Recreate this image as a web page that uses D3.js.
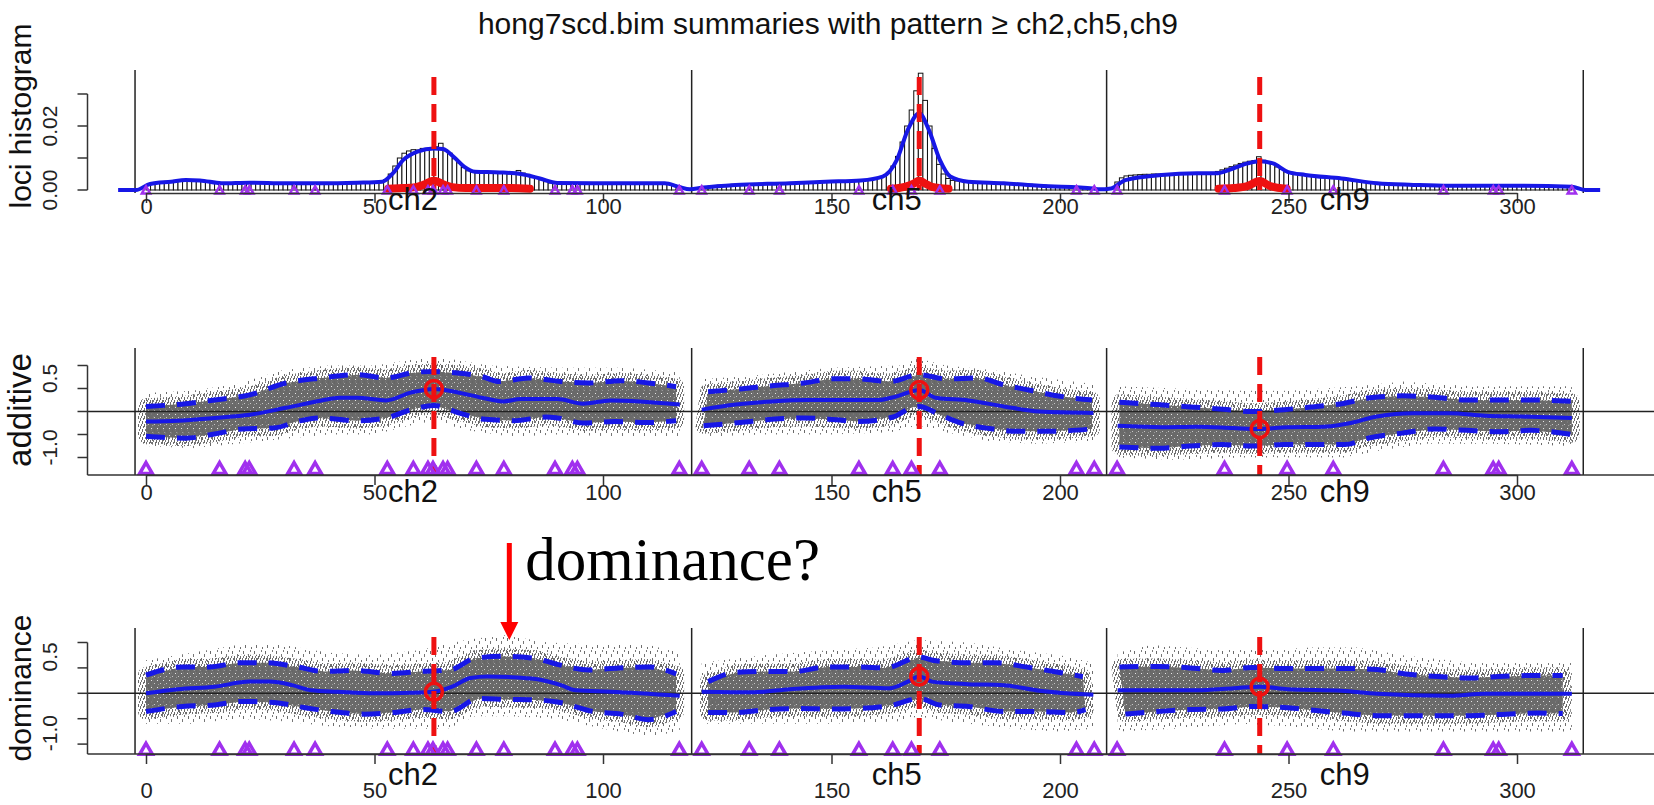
<!DOCTYPE html>
<html><head><meta charset="utf-8">
<script src="https://cdn.jsdelivr.net/npm/d3@7"></script>
<style>
body{margin:0;background:#fff}
svg{display:block}
</style>
</head><body>
<svg id="c" width="1654" height="805" font-family="Liberation Sans, Arial, Helvetica, sans-serif"></svg>
<script>
// ---------------- data ----------------
const chromNames = ["ch2","ch5","ch9"];
const chromMid = [58.4, 164.3, 262.3];
const separators = [-2.4, 119.4, 210.2, 314.5];
const xTicks = [0,50,100,150,200,250,300];
const qtlPos = [63, 169.2, 243.7];
const markerPos = [0,16.1,21.7,22.6,32.4,37,52.8,58.5,61.7,62.8,65,66,72.3,78.3,89.5,93.3,94.4,116.7,
  121.6,132,138.6,156,163.4,167.5,173.7,203.6,207.5,
  212.5,236,249.7,259.8,283.9,294.8,296,312];

// histogram (density x 1000), 1 cM bins starting at histStart
const histStart = [0, 121, 212];
const histCh2 = [1.5,2.2,2.4,2.6,2.7,2.8,3.0,3.1,3.1,3.0,3.1,2.9,2.8,2.6,2.4,2.2,2.1,2.0,2.1,2.2,2.3,
  2.3,2.2,2.3,2.2,2.1,2.0,2.1,2.1,2.0,1.9,2.0,2.1,2.0,2.1,2.0,2.1,2.2,2.1,2.0,2.1,
  2.2,2.3,2.2,2.3,2.2,2.3,2.4,2.3,2.4,2.5,2.5,3.2,5.0,7.5,10.0,11.5,12.2,12.6,12.5,13.0,12.8,12.9,
  13.5,14.6,12.5,11.5,9.8,8.5,7.0,6.0,5.6,5.4,5.3,5.4,5.2,5.3,5.4,5.2,5.1,5.5,6.1,5.3,4.9,4.4,3.9,
  3.2,2.6,2.2,2.2,2.3,2.2,2.1,2.2,2.3,2.2,2.1,2.2,2.1,2.0,2.1,2.1,2.2,2.1,2.1,2.0,2.1,2.1,2.2,2.1,2.0,2.1,2.1,2.0,1.9,1.6,1.0];
const histCh5 = [0.8,1.0,1.2,1.4,1.5,1.6,1.7,1.8,1.8,1.9,1.9,2.0,2.0,2.1,2.0,2.1,2.2,2.1,2.2,2.2,
  2.3,2.4,2.3,2.4,2.5,2.5,2.6,2.6,2.5,2.7,2.7,2.8,2.8,2.9,2.9,3.0,3.0,3.1,3.3,3.6,
  4.2,5.5,7.5,10.5,15.0,20.0,25.0,31.0,36.5,28.0,20.0,13.0,8.0,5.0,3.6,3.0,2.8,
  2.7,2.6,2.6,2.5,2.5,2.4,2.4,2.3,2.3,2.2,2.1,2.1,2.0,1.9,1.8,1.8,1.7,1.6,1.5,1.4,1.3,1.2,1.1,1.0,0.9,0.8,0.7,0.6,0.5];
const histCh9 = [2.5,3.8,4.4,4.6,4.7,4.8,4.9,4.9,5.0,5.0,5.0,5.1,5.1,5.2,5.2,5.2,5.1,5.2,5.2,5.3,5.3,5.5,
  5.8,6.3,6.8,7.3,7.8,8.3,8.7,9.0,9.2,10.4,9.3,8.7,8.0,7.2,6.4,5.7,5.2,4.9,4.7,4.5,
  4.3,4.2,4.0,3.9,3.8,3.7,3.6,3.4,3.2,3.0,2.8,2.6,2.4,2.2,2.0,
  1.9,1.8,1.7,1.6,1.5,1.5,1.4,1.4,1.3,1.3,1.3,1.2,1.3,1.2,1.2,1.3,1.2,1.3,1.2,1.2,1.3,1.4,1.3,1.2,1.3,1.2,1.3,1.2,1.2,1.3,1.2,1.3,1.2,1.2,1.3,1.2,1.2,1.1,1.2,1.1,1.0,0.9,0.8];
const densityLine = [[-6.1,0],[-2.2,0],[0.9,1.9],[5.5,2.6],[8.7,3.1],[11.8,3.0],[16.5,2.1],[22.7,2.3],[30.6,2.1],[38.4,2.1],
  [46.2,2.3],[51.7,2.6],[54,5.2],[56.3,9.4],[59.4,12.0],[63,13.0],[65,12.8],[67.3,10.4],[69.6,7.3],[72,5.7],[77.4,5.5],
  [82,5.0],[86.2,3.6],[90,2.2],[97.9,2.1],[105.6,2.1],[113.5,2.1],[116.6,1.0],[119,0.2],[122,0.8],[129,1.6],[140.9,2.1],
  [148.7,2.6],[156.4,3.0],[161.2,4.2],[164.3,9.4],[166.7,18.8],[169.2,24],[171.3,18.8],[173.7,9.4],[176,4.2],[179.9,2.6],
  [187.7,2.1],[195.5,1.3],[207.3,0.5],[208.5,0.2],[211.2,0.5],[214.3,3.1],[222.2,4.7],[230,5.2],[234,5.2],[238,6.8],[241,8.3],
  [243.7,9.0],[246.6,8.3],[249.8,5.7],[253.7,4.7],[261.6,3.6],[269.4,2.1],[277.3,1.6],[285.2,1.3],[293,1.3],[300.9,1.3],
  [312,1.0],[315,0],[318.2,0]];
const qtlBand = [[53,0.4],[56,0.6],[59,0.9],[61,1.8],[63,3.0],[65,1.8],[67,0.9],[70,0.6],[76,0.6],[80,0.6],[84,0.4],null,
  [163,0.4],[166,1.0],[168,2.0],[169.2,3.0],[170.5,2.0],[172,1.0],[175.6,0.4],null,
  [234.7,0.4],[238,0.6],[241,1.2],[243.7,2.8],[246,1.2],[249.6,0.4]];
const histYTicks = [0,10,20,30];
const histYLabels = ["0.00","","0.02",""];
const effYTicks = [-1,-0.5,0,0.5,1];
const effYLabels = ["-1.0","","","0.5",""];

// additive effects
const addMean = [[0,-0.22],[7,-0.2],[15,-0.14],[22.7,-0.07],[30.6,0.08],[38.4,0.24],[42.3,0.3],[46.2,0.3],[52.5,0.24],[57.9,0.41],
  [63,0.49],[68,0.42],[73.5,0.3],[78.2,0.22],[82,0.27],[90,0.27],[95.6,0.17],[101.7,0.24],[108,0.22],[116.8,0.15],null,
  [121.6,0.04],[129,0.15],[137,0.22],[144.8,0.25],[152.6,0.25],[160.3,0.25],[164.3,0.33],[169.2,0.47],[172.8,0.3],[179.9,0.24],
  [187.7,0.11],[195.5,0.0],[207.3,-0.03],null,
  [212.6,-0.31],[222.2,-0.34],[230,-0.33],[238,-0.36],[243.7,-0.38],[249.8,-0.34],[257.6,-0.33],[263,-0.26],[269.4,-0.11],
  [277.3,-0.04],[285.2,-0.04],[293,-0.09],[301,-0.11],[312,-0.14]];
const addUp = [[0,0.11],[8.7,0.17],[15,0.25],[22.7,0.36],[30.6,0.62],[38.4,0.73],[46.2,0.8],[52.5,0.73],[58.7,0.85],[63,0.87],
  [66.5,0.85],[73.5,0.76],[77.4,0.65],[83.7,0.73],[87,0.7],[90.8,0.65],[97,0.62],[104,0.67],[110,0.62],[116,0.54],null,
  [123,0.43],[130,0.49],[137,0.56],[144,0.62],[150,0.71],[156,0.71],[162.7,0.65],[169.2,0.8],[175,0.71],[182,0.73],
  [187.7,0.58],[194,0.45],[200,0.33],[207,0.25],null,
  [213,0.2],[221.3,0.15],[228.5,0.1],[235.6,0.05],[242,0.0],[249,0.04],[255.2,0.1],[262.3,0.18],[267.8,0.3],[274.9,0.34],
  [282,0.31],[289,0.25],[296,0.25],[303,0.25],[312,0.22]];
const addLow = [[0,-0.54],[8.7,-0.58],[15,-0.49],[21,-0.38],[28,-0.36],[33,-0.22],[38,-0.14],[46,-0.2],[52.5,-0.14],[58.7,0.06],
  [63,0.13],[68.8,-0.04],[74.3,-0.17],[80.5,-0.2],[87.6,-0.12],[90,-0.14],[95.6,-0.25],[102.6,-0.22],[109.6,-0.24],[116,-0.2],null,
  [122,-0.31],[130,-0.24],[137,-0.17],[144,-0.14],[151,-0.18],[156,-0.22],[163.5,-0.12],[167.4,0.08],[169.2,0.11],[173.7,-0.07],
  [178.3,-0.25],[184.6,-0.37],[190.9,-0.43],[197.9,-0.43],[207,-0.38],null,
  [213,-0.77],[221.3,-0.8],[228.5,-0.75],[235.6,-0.72],[242,-0.75],[249,-0.72],[256,-0.72],[262.3,-0.72],[267.8,-0.57],
  [274.9,-0.47],[282,-0.38],[289,-0.41],[296,-0.44],[303,-0.41],[312,-0.5]];
const addOutUp = [[0,0.4],[10,0.45],[20,0.6],[30,0.9],[40,1.0],[50,1.0],[60,1.15],[66,1.15],[75,1.0],[90,0.95],[105,0.95],[116.8,0.85],null,
  [121.6,0.7],[135,0.8],[150,0.95],[165,1.0],[169,1.15],[175,1.0],[185,0.9],[195,0.75],[207.3,0.6],null,
  [212.6,0.55],[225,0.5],[240,0.45],[250,0.45],[265,0.55],[275,0.65],[290,0.55],[312,0.55]];
const addOutLow = [[0,-0.75],[10,-0.8],[20,-0.7],[30,-0.6],[40,-0.5],[50,-0.5],[58,-0.3],[63,-0.2],[70,-0.4],[80,-0.55],[90,-0.5],[105,-0.55],[116.8,-0.55],null,
  [121.6,-0.55],[135,-0.5],[150,-0.5],[163,-0.45],[169,-0.3],[175,-0.45],[185,-0.65],[195,-0.7],[207.3,-0.65],null,
  [212.6,-1.0],[225,-1.05],[240,-1.0],[250,-1.0],[262,-1.0],[270,-0.85],[280,-0.7],[295,-0.7],[312,-0.75]];

// dominance effects
const domMean = [[0,0],[7,0.08],[15,0.13],[22.7,0.23],[27,0.23],[32,0.16],[36,0.06],[42,0.03],[50,0],[58,0.01],[63,0.03],[67,0.13],
  [71,0.3],[74.7,0.33],[81.3,0.31],[86,0.27],[90.8,0.16],[94,0.06],[101.7,0.03],[116.8,-0.05],null,
  [121.6,0.03],[133,0.02],[140.9,0.08],[152.6,0.13],[162.7,0.1],[166.7,0.23],[169.2,0.33],[172,0.23],[179.9,0.18],[187.7,0.16],
  [195.5,0.05],[207.3,-0.03],null,
  [212.6,0.06],[230,0.06],[238,0.1],[243.7,0.13],[249.8,0.08],[261.6,0.05],[269.4,-0.01],[285.2,-0.05],[293,-0.01],[312,-0.01]];
const domUp = [[0,0.36],[8,0.52],[14,0.52],[20.4,0.6],[26.6,0.6],[33,0.52],[39,0.43],[45.4,0.45],[54,0.39],[60,0.43],[66.5,0.46],
  [72,0.69],[78,0.73],[85,0.69],[90,0.57],[97,0.46],[103.4,0.5],[110,0.52],[116,0.38],null,
  [123,0.23],[129,0.41],[135,0.43],[142,0.43],[149,0.52],[156,0.52],[161.8,0.5],[169.2,0.71],[172.8,0.64],[180,0.6],[186,0.6],
  [192.5,0.52],[198.6,0.43],[205,0.33],null,
  [213,0.52],[221.3,0.53],[228.5,0.5],[235.6,0.45],[242,0.51],[249,0.49],[256,0.49],[262.3,0.49],[269.4,0.47],[275.7,0.38],
  [282.8,0.33],[289.8,0.3],[296,0.33],[303,0.35],[310,0.35]];
const domLow = [[0,-0.36],[8,-0.26],[15,-0.23],[21.2,-0.16],[28,-0.18],[34.5,-0.28],[40.7,-0.36],[47.8,-0.41],[54,-0.38],[60.2,-0.32],
  [66.5,-0.36],[72.8,-0.1],[79,-0.12],[85.2,-0.13],[90,-0.17],[98,-0.36],[104,-0.41],[110,-0.52],[116,-0.36],null,
  [123,-0.38],[129,-0.38],[136,-0.32],[142.8,-0.3],[150,-0.31],[156,-0.3],[163.5,-0.23],[169.2,-0.1],[173.7,-0.23],[180,-0.26],
  [187.7,-0.36],[195,-0.36],[202.5,-0.38],[205.6,-0.32],null,
  [214.3,-0.41],[221.3,-0.36],[228.5,-0.32],[235.6,-0.31],[242,-0.26],[249,-0.28],[256,-0.34],[262,-0.39],[269.4,-0.44],
  [275.7,-0.44],[282.8,-0.44],[289.8,-0.44],[297.7,-0.41],[304.6,-0.39],[310,-0.4]];
const domOutUp = [[0,0.65],[10,0.8],[20,0.95],[30,0.95],[40,0.8],[50,0.75],[60,0.85],[70,1.05],[78,1.15],[88,1.0],[100,0.95],[110,0.95],[116.8,0.8],null,
  [121.6,0.6],[135,0.75],[150,0.85],[160,0.9],[169,1.05],[180,1.0],[190,0.85],[200,0.75],[207.3,0.6],null,
  [212.6,0.8],[220,0.95],[235,0.85],[245,0.85],[255,0.9],[265,0.9],[275,0.75],[290,0.6],[312,0.6]];
const domOutLow = [[0,-0.6],[10,-0.6],[20,-0.5],[30,-0.55],[40,-0.65],[50,-0.7],[60,-0.7],[66,-0.7],[72,-0.45],[80,-0.45],[90,-0.5],[100,-0.7],[110,-0.85],[116.8,-0.75],null,
  [121.6,-0.6],[135,-0.6],[150,-0.6],[165,-0.55],[169,-0.45],[175,-0.55],[190,-0.7],[200,-0.75],[207.3,-0.7],null,
  [212.6,-0.75],[225,-0.7],[240,-0.6],[250,-0.65],[262,-0.75],[275,-0.75],[290,-0.75],[312,-0.75]];

const titleText = "hong7scd.bim summaries with pattern \u2265 ch2,ch5,ch9";
const noteText = "dominance?";
const notePos = 79.5;

// ---------------- drawing ----------------
const BLUE = "#1717e6", RED = "#ee1111", PURPLE = "#a030ee", INK = "#111";
const LEFT = 87.5, RIGHT = 1654;
const svg = d3.select("#c");
const defs = svg.append("defs");
function pattern(id, w, h, bg, marks){
  const p = defs.append("pattern").attr("id",id).attr("width",w).attr("height",h).attr("patternUnits","userSpaceOnUse");
  if(bg) p.append("rect").attr("width",w).attr("height",h).attr("fill",bg);
  marks.forEach(m=>p.append("rect").attr("x",m[0]).attr("y",m[1]).attr("width",m[2]).attr("height",m[3]).attr("fill",m[4]));
}
pattern("pDense", 6, 7, "#6a6a6a", [[1,1,1,1,"#e6e6e6"],[4,4,1,1,"#c8c8c8"],[2,5,1,1,"#9a9a9a"]]);
pattern("pMid", 6, 8, null, [[0,0,1,3,"#6a6a6a"],[2,2,1,3,"#707070"],[4,5,1,3,"#666"],[3,0,1,2,"#777"],[5,2,1,2,"#6e6e6e"],[1,5,1,2,"#777"]]);
pattern("pSparse", 11, 13, null, [[1,1,1,3,"#6a6a6a"],[6,4,1,3,"#777"],[3,8,1,3,"#6e6e6e"],[9,10,1,2,"#707070"],[8,0,1,2,"#7a7a7a"]]);

const x = d3.scaleLinear().domain([0,300]).range([146,1517]);

svg.append("text").attr("x",828).attr("y",34).attr("text-anchor","middle")
  .attr("font-size",30).attr("fill",INK).text(titleText);

function segments(arr){
  const out=[]; let cur=[];
  arr.forEach(d=>{ if(d===null){ if(cur.length) out.push(cur); cur=[]; } else cur.push(d); });
  if(cur.length) out.push(cur);
  return out;
}
function band(g, y, up, low, fill, edge){
  const su = segments(up), sl = segments(low);
  const ln = d3.line().x(d=>x(d[0])).y(d=>y(d[1]));
  su.forEach((s,i)=>{
    const pts = s.concat(sl[i].slice().reverse());
    const p = g.append("path").attr("d", ln(pts)+"Z").attr("fill",fill);
    if(edge) p.attr("stroke",edge).attr("stroke-width",16).attr("stroke-linejoin","round");
    else p.attr("stroke","none");
  });
}
function yAxis(g, y, ticks, labels, lineTop, lineBot, shift){
  g.append("line").attr("x1",LEFT).attr("x2",LEFT).attr("y1",lineTop).attr("y2",lineBot)
    .attr("stroke","#333").attr("stroke-width",1.5);
  ticks.forEach((t,i)=>{
    g.append("line").attr("x1",LEFT-10).attr("x2",LEFT).attr("y1",y(t)).attr("y2",y(t))
      .attr("stroke","#333").attr("stroke-width",1.5);
    if(labels[i]) g.append("text").attr("transform",`translate(57,${y(t)+shift}) rotate(-90)`)
      .attr("text-anchor","middle").attr("font-size",21).attr("fill","#222").text(labels[i]);
  });
}
function xAxis(g, axisY, numBase, chBase){
  const ax = d3.axisBottom(x).tickValues(xTicks).tickSize(10).tickSizeOuter(0);
  const a = g.append("g").attr("transform",`translate(0,${axisY})`).call(ax);
  a.select(".domain").attr("stroke","#333").attr("stroke-width",1.5);
  a.selectAll(".tick line").attr("stroke","#333").attr("stroke-width",1.5);
  a.selectAll(".tick text").attr("y",numBase-axisY).attr("dy",0).attr("font-size",22)
    .attr("font-family","Liberation Sans, Arial, sans-serif").attr("fill","#222");
  chromNames.forEach((c,i)=>{
    g.append("text").attr("x",x(chromMid[i])).attr("y",chBase).attr("text-anchor","middle")
      .attr("font-size",31).attr("fill",INK).text(c);
  });
}
function separatorsDraw(g, top, bot){
  separators.forEach(s=>{
    g.append("line").attr("x1",x(s)).attr("x2",x(s)).attr("y1",top).attr("y2",bot)
      .attr("stroke","#222").attr("stroke-width",1.5);
  });
}
function ylab(text, cy, size){
  svg.append("text").attr("transform",`translate(31,${cy}) rotate(-90)`).attr("text-anchor","middle")
    .attr("font-size",size).attr("fill",INK).text(text);
}
function markersDraw(g, yPix, size, sw){
  const sym = d3.symbol().type(d3.symbolTriangle).size(size);
  markerPos.forEach(m=>{
    g.append("path").attr("d",sym()).attr("transform",`translate(${x(m)},${yPix})`)
      .attr("fill","none").attr("stroke",PURPLE).attr("stroke-width",sw);
  });
}
function qtlLines(g, top, bot){
  qtlPos.forEach(q=>{
    g.append("line").attr("x1",x(q)).attr("x2",x(q)).attr("y1",top).attr("y2",bot)
      .attr("stroke",RED).attr("stroke-width",5).attr("stroke-dasharray","18 9");
  });
}

// ---- panel 1: loci histogram ----
{
  const g = svg.append("g");
  const y = d3.scaleLinear().domain([0,30]).range([190,94]);
  const bw = x(1)-x(0);
  [histCh2,histCh5,histCh9].forEach((h,ci)=>{
    h.forEach((v,i)=>{
      g.append("rect").attr("x",x(histStart[ci]+i)).attr("y",y(v)).attr("width",bw).attr("height",y(0)-y(v))
        .attr("fill","#fff").attr("stroke","#111").attr("stroke-width",1);
    });
  });
  separatorsDraw(g, 70, 193);
  const ln = d3.line().defined(d=>d!==null).x(d=>x(d[0])).y(d=>y(d[1])).curve(d3.curveMonotoneX);
  g.append("path").attr("d",ln(qtlBand)).attr("fill","none").attr("stroke",RED).attr("stroke-width",8)
    .attr("stroke-linecap","round").attr("stroke-linejoin","round");
  g.append("path").attr("d",ln(densityLine)).attr("fill","none").attr("stroke",BLUE).attr("stroke-width",4);
  qtlLines(g, 77, 190);
  markersDraw(g, y(0)+1, 30, 2.5);
  yAxis(g, y, histYTicks, histYLabels, y(30), y(0), 0);
  xAxis(g, 193, 214, 210);
  ylab("loci histogram", 116, 30);
}

// ---- panels 2 & 3 ----
function effectPanel(cfg){
  const g = svg.append("g");
  const y = d3.scaleLinear().domain([-1,1]).range(cfg.yRange);
  band(g, y, cfg.outUp, cfg.outLow, "url(#pSparse)", null);
  band(g, y, cfg.up, cfg.low, "url(#pDense)", "url(#pMid)");
  g.append("line").attr("x1",LEFT).attr("x2",RIGHT).attr("y1",y(0)).attr("y2",y(0))
    .attr("stroke","#222").attr("stroke-width",1.5);
  separatorsDraw(g, cfg.top, cfg.bot);
  const ln = d3.line().defined(d=>d!==null).x(d=>x(d[0])).y(d=>y(d[1])).curve(d3.curveMonotoneX);
  [cfg.up, cfg.low].forEach(s=>{
    g.append("path").attr("d",ln(s)).attr("fill","none").attr("stroke",BLUE).attr("stroke-width",5)
      .attr("stroke-dasharray","19 12");
  });
  g.append("path").attr("d",ln(cfg.mean)).attr("fill","none").attr("stroke",BLUE).attr("stroke-width",4);
  qtlLines(g, cfg.top+9, cfg.bot);
  const lnFlat = cfg.mean.filter(d=>d!==null);
  qtlPos.forEach(q=>{
    const pt = lnFlat.reduce((a,b)=>Math.abs(b[0]-q)<Math.abs(a[0]-q)?b:a);
    g.append("circle").attr("cx",x(q)).attr("cy",y(pt[1])).attr("r",8.5)
      .attr("fill","none").attr("stroke",RED).attr("stroke-width",3.5);
  });
  markersDraw(g, y(cfg.markerY), 70, 3.5);
  g.append("line").attr("x1",LEFT).attr("x2",RIGHT).attr("y1",cfg.bot).attr("y2",cfg.bot)
    .attr("stroke","#333").attr("stroke-width",1.5);
  yAxis(g, y, effYTicks, effYLabels, y(1), cfg.bot, cfg.labShift);
  xAxis(g, cfg.bot, cfg.numBase, cfg.chBase);
  ylab(cfg.label, cfg.labelY, cfg.labelSize);
}
effectPanel({label:"additive", labelY:410, labelSize:33, yRange:[457.5,365.5], top:348, bot:475, markerY:-1.27, labShift:-10,
  mean:addMean, up:addUp, low:addLow, outUp:addOutUp, outLow:addOutLow, numBase:500, chBase:502});
effectPanel({label:"dominance", labelY:688, labelSize:30, yRange:[744.1,642.5], top:628, bot:754, markerY:-1.13, labShift:-11,
  mean:domMean, up:domUp, low:domLow, outUp:domOutUp, outLow:domOutLow, numBase:798, chBase:785});

// ---- annotation ----
{
  const ax = x(notePos);
  svg.append("line").attr("x1",ax).attr("x2",ax).attr("y1",543).attr("y2",624)
    .attr("stroke","#ff0000").attr("stroke-width",5);
  svg.append("path").attr("d",`M${ax-9},622L${ax+9},622L${ax},640Z`).attr("fill","#ff0000");
  svg.append("text").attr("x",ax+16).attr("y",580)
    .style("font-family","'Liberation Serif', 'Times New Roman', serif")
    .attr("font-size",61).attr("fill","#000").text(noteText);
}
</script>
</body></html>
